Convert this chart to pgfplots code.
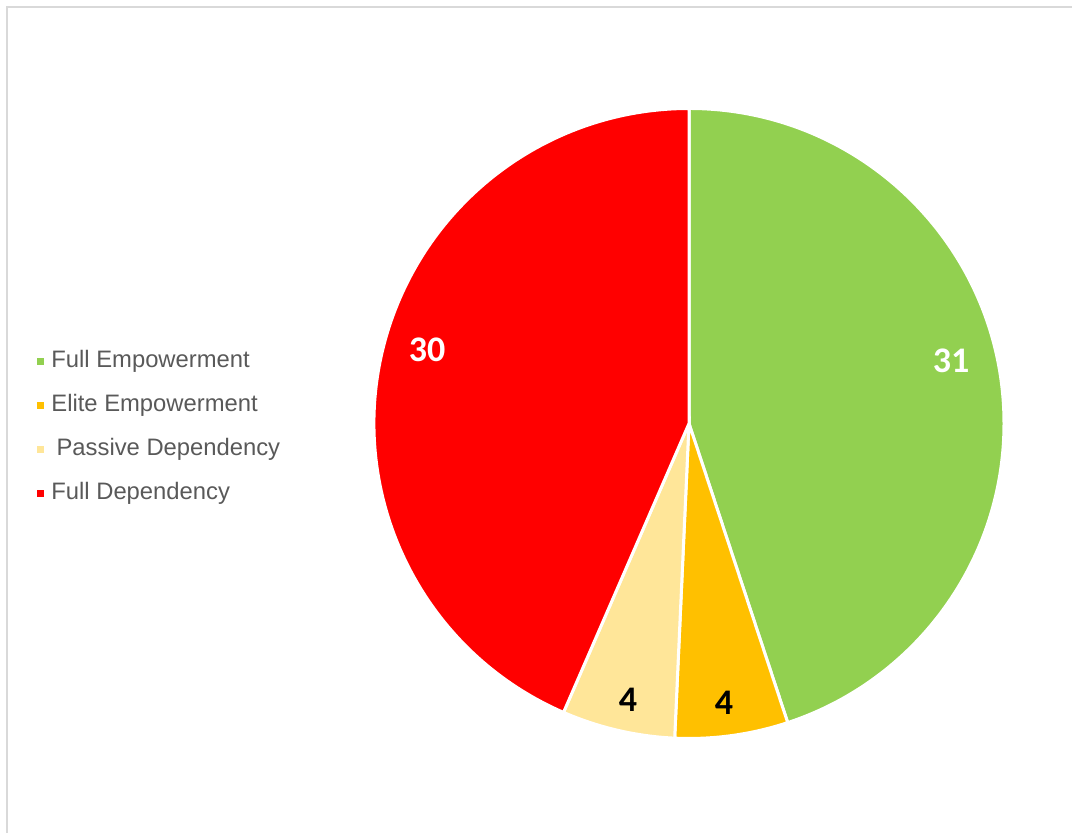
\documentclass[border=0pt]{standalone}
\usepackage{pgfplots}
\usepackage{pgfplotstable}
\pgfplotsset{compat=1.18}
\usepackage{fontspec}
\setmainfont{Liberation Sans}
\newfontfamily\carlito{Carlito}
\definecolor{cGreen}{HTML}{92D050}
\definecolor{cOrange}{HTML}{FFC000}
\definecolor{cYellow}{HTML}{FFE699}
\definecolor{cRed}{HTML}{FF0000}
\definecolor{legtext}{HTML}{595959}
\definecolor{frameg}{HTML}{D9D9D9}

\pgfplotstableread{
label value
FE 31
EE 4
PD 4
FD 30
}\piedata

\begin{document}
\begin{tikzpicture}
\pgfplotstablegetelem{0}{value}\of\piedata \let\vA\pgfplotsretval
\pgfplotstablegetelem{1}{value}\of\piedata \let\vB\pgfplotsretval
\pgfplotstablegetelem{2}{value}\of\piedata \let\vC\pgfplotsretval
\pgfplotstablegetelem{3}{value}\of\piedata \let\vD\pgfplotsretval
\pgfmathsetmacro\tot{\vA+\vB+\vC+\vD}
\pgfmathsetmacro\aA{90}
\pgfmathsetmacro\aB{\aA-360*\vA/\tot}
\pgfmathsetmacro\aC{\aB-360*\vB/\tot}
\pgfmathsetmacro\aD{\aC-360*\vC/\tot}
\pgfmathsetmacro\aE{\aD-360*\vD/\tot}
\path[use as bounding box] (0,0) rectangle (536pt,416.5pt);
\draw[frameg, line width=1pt] (3.5pt,0) -- (3.5pt,413pt) -- (536pt,413pt);
\begin{axis}[
  at={(0,0)}, anchor=south west,
  x=0.5pt, y=0.5pt,
  xmin=0, xmax=1072, ymin=0, ymax=833,
  hide axis, clip=false,
  legend cell align=left,
  legend style={at={(axis cs:37,483)}, anchor=north west, draw=none, fill=none,
    inner sep=0pt, outer sep=0pt,
    font=\fontsize{11.9}{13.5}\selectfont, text=legtext,
    row sep=10.5pt,
    nodes={inner sep=0pt, outer sep=0pt, text height=8.9pt, text depth=2.6pt}},
]
\fill[cGreen, draw=white, line width=1.5pt] (axis cs:689,409.5) -- ++(\aA:157.5pt) arc[start angle=\aA, end angle=\aB, radius=157.5pt] -- cycle;
\fill[cOrange, draw=white, line width=1.5pt] (axis cs:689,409.5) -- ++(\aB:157.5pt) arc[start angle=\aB, end angle=\aC, radius=157.5pt] -- cycle;
\fill[cYellow, draw=white, line width=1.5pt] (axis cs:689,409.5) -- ++(\aC:157.5pt) arc[start angle=\aC, end angle=\aD, radius=157.5pt] -- cycle;
\fill[cRed, draw=white, line width=1.5pt] (axis cs:689,409.5) -- ++(\aD:157.5pt) arc[start angle=\aD, end angle=\aE, radius=157.5pt] -- cycle;

\addlegendimage{legend image code/.code={\path[draw=none,fill=none] (0pt,0pt) -- (7pt,0pt); \fill[cGreen] (0pt,-1.6pt) rectangle (3.2pt,1.6pt);}}
\addlegendentry{Full Empowerment}
\addlegendimage{legend image code/.code={\path[draw=none,fill=none] (0pt,0pt) -- (7pt,0pt); \fill[cOrange] (0pt,-1.6pt) rectangle (3.2pt,1.6pt);}}
\addlegendentry{Elite Empowerment}
\addlegendimage{legend image code/.code={\path[draw=none,fill=none] (0pt,0pt) -- (7pt,0pt); \fill[cYellow] (0pt,-1.6pt) rectangle (3.2pt,1.6pt);}}
\addlegendentry{\hspace{2.6pt}Passive Dependency}
\addlegendimage{legend image code/.code={\path[draw=none,fill=none] (0pt,0pt) -- (7pt,0pt); \fill[cRed] (0pt,-1.6pt) rectangle (3.2pt,1.6pt);}}
\addlegendentry{Full Dependency}

\node[text=white, font=\carlito\bfseries\fontsize{18}{20}\selectfont] at (axis cs:951,472) {31};
\node[text=white, font=\carlito\bfseries\fontsize{18}{20}\selectfont] at (axis cs:427,483) {30};
\node[text=black, font=\carlito\bfseries\fontsize{18}{20}\selectfont] at (axis cs:628,133) {4};
\node[text=black, font=\carlito\bfseries\fontsize{18}{20}\selectfont] at (axis cs:724,130) {4};
\end{axis}
\end{tikzpicture}
\end{document}
